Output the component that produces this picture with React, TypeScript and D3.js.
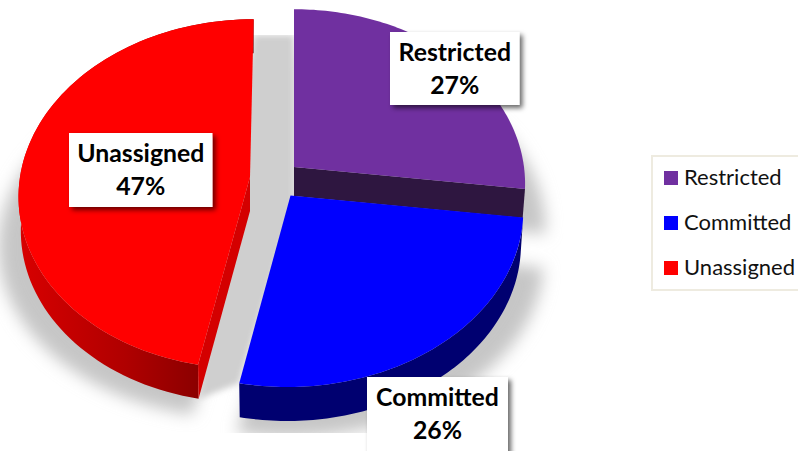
import React from "react";
import * as d3 from "d3";

const categories = ["Restricted", "Committed", "Unassigned"];
const shares = [27, 26, 47];
const percentLabels = ["27%", "26%", "47%"];
const colors = ["#7030a0", "#0000ff", "#ff0000"];
const wallColors = ["#2e1640", "#000070", "#d40000"];

// Pie geometry per slice (exploded apex on screen)
const apexX = [294, 290.5, 250];
const apexY = [167, 195.5, 177];
const depths = [29, 34, 34];
const shearX = [0, -3, -4];
const radiiX = [230, 232, 230];
const ry = 173;
const persp = 0.0965;

const labelBoxes = [
  { x: 390, y: 32, w: 129.5, h: 73 },
  { x: 367, y: 377, w: 141, h: 80 },
  { x: 69, y: 133, w: 143.5, h: 74 },
];

const pieGen = d3.pie<number>().sort(null).value((d) => d);
const arcs = pieGen(shares);
const line = d3.line<[number, number]>();

function project(i: number, a: number, r: number): [number, number] {
  const u = r * Math.sin(a);
  const v = -r * Math.cos(a);
  const den = 1 - persp * v;
  return [apexX[i] + (radiiX[i] * u + shearX[i] * v) / den, apexY[i] + (ry * v) / den];
}
function down(i: number, p: [number, number]): [number, number] {
  return [apexX[i] + (p[0] - apexX[i]) * 0.99, p[1] + depths[i]];
}
function sample(a0: number, a1: number): number[] {
  const n = 90;
  return d3.range(n + 1).map((k) => a0 + ((a1 - a0) * k) / n);
}

export default function App() {
  const slices = arcs.map((arc, i) => {
    const pts = sample(arc.startAngle, arc.endAngle).map((a) => project(i, a, 1));
    const apex = project(i, 0, 0);
    const top = line([apex, ...pts])! + "Z";
    const botPts = pts.map((p) => down(i, p));
    const outer = line([...pts, ...botPts.slice().reverse()])! + "Z";
    const cutA = line([apex, pts[0], botPts[0], down(i, apex)])! + "Z";
    const cutB = line([apex, pts[pts.length - 1], botPts[botPts.length - 1], down(i, apex)])! + "Z";
    const shadowPts = [apex, ...pts].map((p): [number, number] => [
      270 + (p[0] - 270) * 1.08,
      p[1] + depths[i] + 16,
    ]);
    return { top, outer, cutA, cutB, shadow: line(shadowPts)! + "Z", apex, pts };
  });

  const gap = line([
    [slices[2].pts[slices[2].pts.length - 1][0], 35],
    [slices[0].pts[0][0], 35],
    [slices[0].apex[0], slices[1].apex[1] + 10],
    slices[1].pts[slices[1].pts.length - 1],
    down(2, slices[2].pts[0]),
  ])! + "Z";

  return (
    <svg
      width={798}
      height={451}
      style={{ position: "absolute", left: 0, top: 0, background: "#fff" }}
    >
      <defs>
        <filter id="blur" x="-20%" y="-20%" width="140%" height="140%">
          <feGaussianBlur stdDeviation="8" />
        </filter>
        <filter id="blurSmall" x="-30%" y="-10%" width="160%" height="120%">
          <feGaussianBlur stdDeviation="3" />
        </filter>
        <filter id="boxShadow" x="-20%" y="-20%" width="150%" height="150%">
          <feDropShadow dx="3" dy="3" stdDeviation="2.5" floodColor="#000" floodOpacity="0.6" />
        </filter>
        <linearGradient id="redWall" x1="0" x2="1" y1="0" y2="0">
          <stop offset="0" stopColor="#d80000" />
          <stop offset="0.45" stopColor="#b00000" />
          <stop offset="1" stopColor="#700000" />
        </linearGradient>
        <clipPath id="shadowClip">
          <rect x={0} y={35} width={798} height={398} />
        </clipPath>
      </defs>

      <g clipPath="url(#shadowClip)">
        <g filter="url(#blur)" fill="#c6c6c6">
          {slices.map((s, i) => (
            <path key={i} d={s.shadow} />
          ))}
        </g>
        <path d={gap} fill="#cfcfcf" filter="url(#blurSmall)" />
      </g>

      {slices.map((s, i) => (
        <g key={categories[i]}>
          {i === 0 ? (
            <path d={s.cutB} fill={wallColors[0]} />
          ) : (
            <path d={s.outer} fill={i === 2 ? "url(#redWall)" : wallColors[i]} />
          )}
          {i === 2 && <path d={s.cutA} fill={wallColors[2]} />}
          <path d={s.top} fill={colors[i]} />
        </g>
      ))}

      {labelBoxes.map((b, i) => (
        <g key={i}>
          <rect x={b.x} y={b.y} width={b.w} height={b.h} fill="#fff" filter="url(#boxShadow)" />
          <text
            x={b.x + b.w / 2}
            y={b.y + 29}
            textAnchor="middle"
            fontFamily="Lato"
            fontWeight={700}
            fontSize={24.8}
            fill="#000"
          >
            {categories[i]}
          </text>
          <text
            x={b.x + b.w / 2}
            y={b.y + 62}
            textAnchor="middle"
            fontFamily="Lato"
            fontWeight={700}
            fontSize={24.8}
            fill="#000"
          >
            {percentLabels[i]}
          </text>
        </g>
      ))}

      <rect x={652} y={156} width={150} height={134} fill="#fff" stroke="#eeebe0" strokeWidth={2} />
      {categories.map((c, i) => (
        <g key={c}>
          <rect x={664} y={171 + i * 45} width={14} height={14} fill={colors[i]} />
          <text x={684} y={185 + i * 45} fontFamily="Lato" fontSize={22} fill="#111">
            {c}
          </text>
        </g>
      ))}
    </svg>
  );
}
